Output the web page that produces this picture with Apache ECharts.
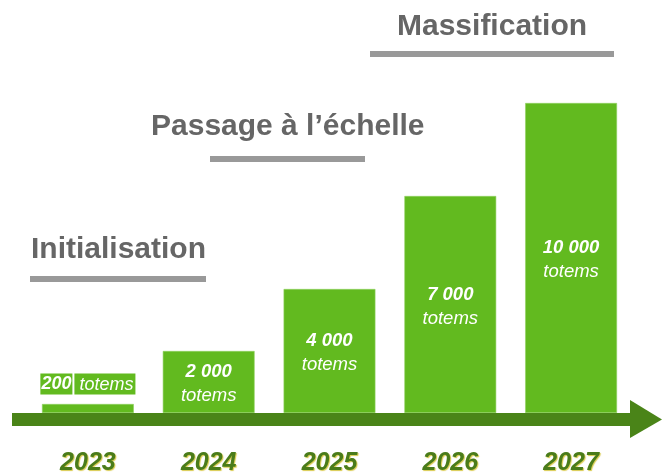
<!DOCTYPE html>
<html>
<head>
<meta charset="utf-8">
<script src="https://cdn.jsdelivr.net/npm/echarts@6/dist/echarts.min.js"></script>
<style>
  html, body { margin: 0; padding: 0; background: #fff; }
  #chart { width: 662px; height: 474px; }
</style>
</head>
<body>
<div id="chart"></div>
<script>
var years = ['2023', '2024', '2025', '2026', '2027'];
var totems = [200, 2000, 4000, 7000, 10000];
var totemLabels = ['200', '2 000', '4 000', '7 000', '10 000'];
var phases = ['Initialisation', 'Passage à l\u2019échelle', 'Massification'];

var myChart = echarts.init(document.getElementById('chart'));

var barData = totems.map(function (v, i) {
  if (i === 0) {
    return {
      value: v,
      label: {
        position: 'top',
        distance: 8,
        offset: [0, 0],
        formatter: '{a|' + totemLabels[i] + '}{gap| }{b|totems}',
        rich: {
          a: { color: '#fff', fontStyle: 'italic', fontSize: 18, backgroundColor: '#62ba1f', padding: [2, 1, 1, 1] },
          gap: { fontSize: 4, width: 2 },
          b: { color: '#fff', fontStyle: 'italic', fontSize: 18, backgroundColor: '#62ba1f', padding: [2, 2, 1, 5] }
        }
      }
    };
  }
  return v;
});

var phaseFont = { fontSize: 30, fontWeight: 'bold', fontFamily: 'Liberation Sans, Arial', fill: '#666' };

var option = {
  animation: false,
  grid: { left: 27.5, right: 30.5, top: 103, bottom: 61, containLabel: false, outerBoundsMode: 'none' },
  xAxis: {
    type: 'category',
    data: years,
    axisLine: { show: false },
    axisTick: { show: false },
    axisLabel: {
      margin: 38,
      fontSize: 25,
      fontWeight: 'bold',
      fontStyle: 'italic',
      fontFamily: 'Liberation Sans, Arial',
      color: '#4a7c1a',
      textShadowColor: 'rgba(200,180,0,0.7)',
      textShadowOffsetX: 1,
      textShadowOffsetY: 1,
      textShadowBlur: 1
    }
  },
  yAxis: { type: 'value', min: 0, max: 10000, show: false },
  series: [{
    type: 'bar',
    data: barData,
    barWidth: '76%',
    barMinHeight: 9,
    itemStyle: { color: '#62ba1f', borderColor: '#8fd060', borderWidth: 0.6 },
    label: {
      show: true,
      position: 'inside',
      offset: [0, 2],
      fontFamily: 'Liberation Sans, Arial',
      lineHeight: 24,
      formatter: function (p) {
        return '{a|' + totemLabels[p.dataIndex] + '}\n{b|totems}';
      },
      rich: {
        a: { color: '#fff', fontSize: 18.5, fontWeight: 'bold', fontStyle: 'italic', lineHeight: 24 },
        b: { color: '#fff', fontSize: 18.5, fontStyle: 'italic', lineHeight: 24 }
      }
    }
  }],
  graphic: [
    { type: 'rect', z: 100, shape: { x: 12, y: 413, width: 622, height: 13 }, style: { fill: '#4a8418' } },
    { type: 'polygon', z: 100, shape: { points: [[630, 400], [662, 419.5], [630, 438]] }, style: { fill: '#4a8418' } },
    { type: 'text', left: 31, top: 235, style: Object.assign({ text: phases[0] }, phaseFont) },
    { type: 'rect', shape: { x: 30, y: 276, width: 176, height: 6 }, style: { fill: '#999' } },
    { type: 'text', left: 151, top: 112, style: Object.assign({ text: phases[1] }, phaseFont) },
    { type: 'rect', shape: { x: 210, y: 156, width: 155, height: 6 }, style: { fill: '#999' } },
    { type: 'text', left: 397, top: 12, style: Object.assign({ text: phases[2] }, phaseFont) },
    { type: 'rect', shape: { x: 370, y: 51, width: 244, height: 6 }, style: { fill: '#999' } }
  ]
};
myChart.setOption(option);
</script>
</body>
</html>
